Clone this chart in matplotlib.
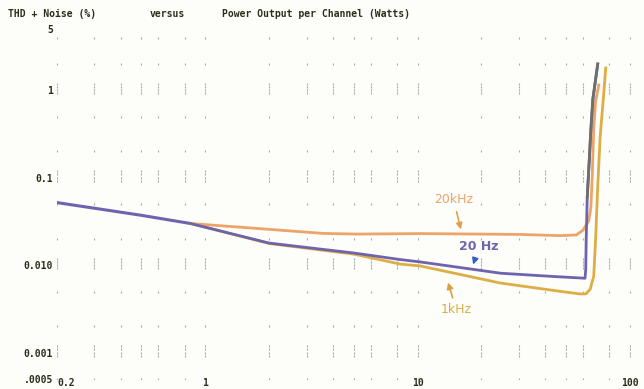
import matplotlib
matplotlib.use("Agg")
import matplotlib.pyplot as plt

# curve data (watts, THD+N %)
p_low = [0.2, 0.5, 0.85]
thd_low = [0.052, 0.0372, 0.030]

p_20hz = [0.85, 2.0, 5.0, 8.3, 10.3, 24.6, 45, 61.5, 62.0, 62.3, 63.0, 64.0, 65.5, 67.0, 70.6]
thd_20hz = [0.030, 0.0179, 0.0138, 0.0116, 0.0109, 0.0081, 0.0074, 0.0071, 0.009, 0.02, 0.06, 0.12, 0.35, 0.8, 2.0]

p_1khz = [0.85, 2.0, 5.0, 8.3, 10.3, 24.6, 45, 58, 62, 65, 67.6, 69.0, 70.6, 72.5, 75, 77]
thd_1khz = [0.030, 0.0177, 0.0134, 0.0103, 0.0098, 0.00625, 0.0051, 0.0047, 0.0047, 0.0053, 0.0075, 0.02, 0.08, 0.3, 0.8, 1.8]

p_20khz = [0.85, 2.0, 3.6, 5.2, 10.3, 30, 47, 56, 60, 64, 65.5, 66.5, 67.5, 69, 71.4]
thd_20khz = [0.030, 0.0257, 0.0231, 0.0227, 0.0230, 0.0225, 0.0218, 0.0222, 0.025, 0.032, 0.045, 0.1, 0.35, 0.75, 1.15]

x_ticks = [0.2, 1, 10, 100]
x_labels = ["0.2", "1", "10", "100"]
y_ticks = [5, 1, 0.1, 0.01, 0.001, 0.0005]
y_labels = ["5", "1", "0.1", "0.010", "0.001", ".0005"]

grid_x = [0.2, 0.3, 0.4, 0.5, 0.6, 0.8, 1, 2, 3, 4, 5, 6, 8, 10,
          20, 30, 40, 50, 60, 80, 100]
grid_y = [4, 2, 1, 0.5, 0.2, 0.1, 0.05, 0.02, 0.01, 0.005, 0.002, 0.001, 0.0005]

INK = "#2e2e1c"
C20HZ = "#6f63ad"
C1K = "#dcae45"
C20K = "#eda468"

fig = plt.figure(figsize=(6.44, 3.89), dpi=100)
fig.patch.set_facecolor("#fdfdfa")
ax = fig.add_axes([0.0885, 0.0257, 0.8895, 0.8993])
ax.set_facecolor("#fdfdfa")
ax.set_xscale("log")
ax.set_yscale("log")
ax.set_xlim(0.2, 100)
ax.set_ylim(0.0005, 5)

# dotted grid marks
for gy in grid_y:
    reps = [0.92, 1.0, 1.09, 1.19] if gy in (1, 0.1, 0.01, 0.001) else [1.0]
    for r in reps:
        ax.scatter(grid_x, [gy * r] * len(grid_x), marker="|", s=3,
                   color="#a8a8a0", linewidths=0.8, zorder=1)

ax.plot(p_low, thd_low, color=C20HZ, lw=2.2, zorder=3, solid_capstyle="round")
ax.plot(p_20khz, thd_20khz, color=C20K, lw=2.0, zorder=3)
ax.plot(p_1khz, thd_1khz, color=C1K, lw=2.0, zorder=3)
ax.plot(p_20hz, thd_20hz, color=C20HZ, lw=2.0, zorder=4)
# greyish top of the 20 Hz trace
ax.plot(p_20hz[-5:], thd_20hz[-5:], color="#6e6e6a", lw=2.0, zorder=4)

ax.annotate("20kHz", xy=(16.1, 0.0239), xytext=(14.8, 0.056), color=C20K,
            fontsize=9, ha="center", va="center",
            arrowprops=dict(arrowstyle="-|>", color="#e0a050", lw=1.2))
ax.annotate("20 Hz", xy=(18.1, 0.0095), xytext=(19.5, 0.0165), color=C20HZ,
            fontsize=9, ha="center", va="center", fontweight="bold",
            arrowprops=dict(arrowstyle="-|>", color="#3060c0", lw=1.2))
ax.annotate("1kHz", xy=(13.8, 0.0068), xytext=(15.2, 0.0031), color=C1K,
            fontsize=9, ha="center", va="center",
            arrowprops=dict(arrowstyle="-|>", color="#d8a040", lw=1.2))

for s in ax.spines.values():
    s.set_visible(False)
ax.minorticks_off()
ax.set_xticks(x_ticks)
ax.set_xticklabels(x_labels)
ax.set_yticks(y_ticks)
ax.set_yticklabels(y_labels)
ax.tick_params(length=0, labelsize=7, labelcolor=INK)
ax.tick_params(axis="x", pad=-1)
ax.tick_params(axis="y", pad=3)
for lab in ax.get_xticklabels() + ax.get_yticklabels():
    lab.set_fontweight("bold")
    lab.set_family("monospace")
ax.get_xticklabels()[0].set_horizontalalignment("left")

fig.text(0.012, 0.965, "THD + Noise (%)", fontsize=7, fontweight="bold",
         family="monospace", color=INK, va="center")
fig.text(0.232, 0.965, "versus", fontsize=7, fontweight="bold",
         family="monospace", color=INK, va="center")
fig.text(0.345, 0.965, "Power Output per Channel (Watts)", fontsize=7,
         fontweight="bold", family="monospace", color=INK, va="center")

fig.savefig("out.png", dpi=100, facecolor=fig.get_facecolor())
